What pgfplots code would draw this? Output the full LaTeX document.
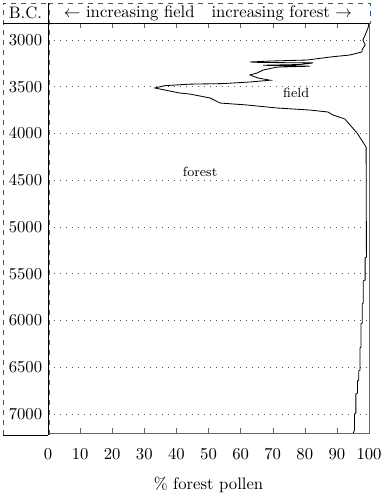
\documentclass[border=0pt]{standalone}
\usepackage{pgfplots}
\pgfplotsset{compat=1.18}
\definecolor{dblue}{RGB}{40,90,160}
\definecolor{dbrown}{RGB}{150,80,20}
\begin{document}
\begin{tikzpicture}
\useasboundingbox (-28.8pt,-36.6pt) rectangle (201.6pt,259.8pt);
\begin{axis}[
  scale only axis,
  width=192.6pt, height=246pt,
  xmin=0, xmax=100,
  ymin=2818, ymax=7203,
  y dir=reverse,
  xtick={0,10,...,100},
  ytick={3000,3500,...,7000},
  yticklabel style={/pgf/number format/.cd, set thousands separator={}},
  ytick style={draw=none},
  major tick length=3pt,
  tick align=inside,
  xtick style={black!60},
  xticklabel style={yshift=-6pt},
  xlabel style={yshift=-3.6pt},
  ymajorgrids,
  grid style={black!65, dash pattern=on 0.8pt off 2.8pt, line width=0.5pt},
  axis line style={black!60},
  xlabel={\% forest pollen},
  clip=false,
]
\addplot[black, line width=0.5pt] coordinates {
(100,2818) (99.7,2872) (98.8,2947) (98.1,3000) (98.8,3053) (97.8,3107)
(97.8,3128) (94.1,3160) (87.9,3182) (80.7,3214) (69.2,3225) (62.9,3235)
(66.0,3240) (82.6,3245) (78.5,3262) (67.0,3270) (81.6,3280) (71.3,3290)
(67.0,3321) (65.1,3353) (62.9,3374) (65.4,3406) (69.2,3430) (62.9,3449)
(54.5,3466) (44.2,3472) (36.4,3488) (33.3,3513) (36.4,3535) (41.1,3567)
(44.2,3578) (50.5,3620) (53.6,3674) (62.0,3695) (71.3,3727) (81.6,3749)
(87.2,3770) (88.8,3802) (92.5,3845) (94.1,3909) (96.3,3995) (98.1,4091)
(99.1,4144) (99.2,5321) (98.8,5330) (98.8,5567) (98.2,5577) (98.2,5813)
(97.9,5823) (97.9,6027) (97.5,6037) (97.5,6283) (97.2,6294) (97.2,6529)
(96.8,6540) (96.8,6636) (96.4,6647) (96.4,6775) (95.9,6786) (95.9,6989)
(95.5,7000) (95.5,7171) (95.1,7203)
};
\node[font=\footnotesize] at (axis cs:77.3,3566) {field};
\node[font=\footnotesize] at (axis cs:47.4,4410) {forest};
\end{axis}
% header and label column
\draw[dblue, dashed] (-27pt,-1.2pt) rectangle (0pt,258pt);
\draw[dblue, dashed] (0pt,246pt) rectangle (193.2pt,258pt);
\draw[dbrown, dashed] (1pt,-1.2pt) -- (1pt,258pt);
\draw[black] (-27pt,246pt) -- (192.6pt,246pt);
\draw[black] (-27pt,-1.2pt) -- (0pt,-1.2pt);
\draw[black] (0pt,-1.2pt) -- (0pt,258pt);
\node at (-13.5pt,252pt) {B.C.};
\node[anchor=west] at (6pt,252pt) {$\leftarrow$ increasing field};
\node[anchor=east] at (186pt,252pt) {increasing forest $\rightarrow$};
\end{tikzpicture}
\end{document}
